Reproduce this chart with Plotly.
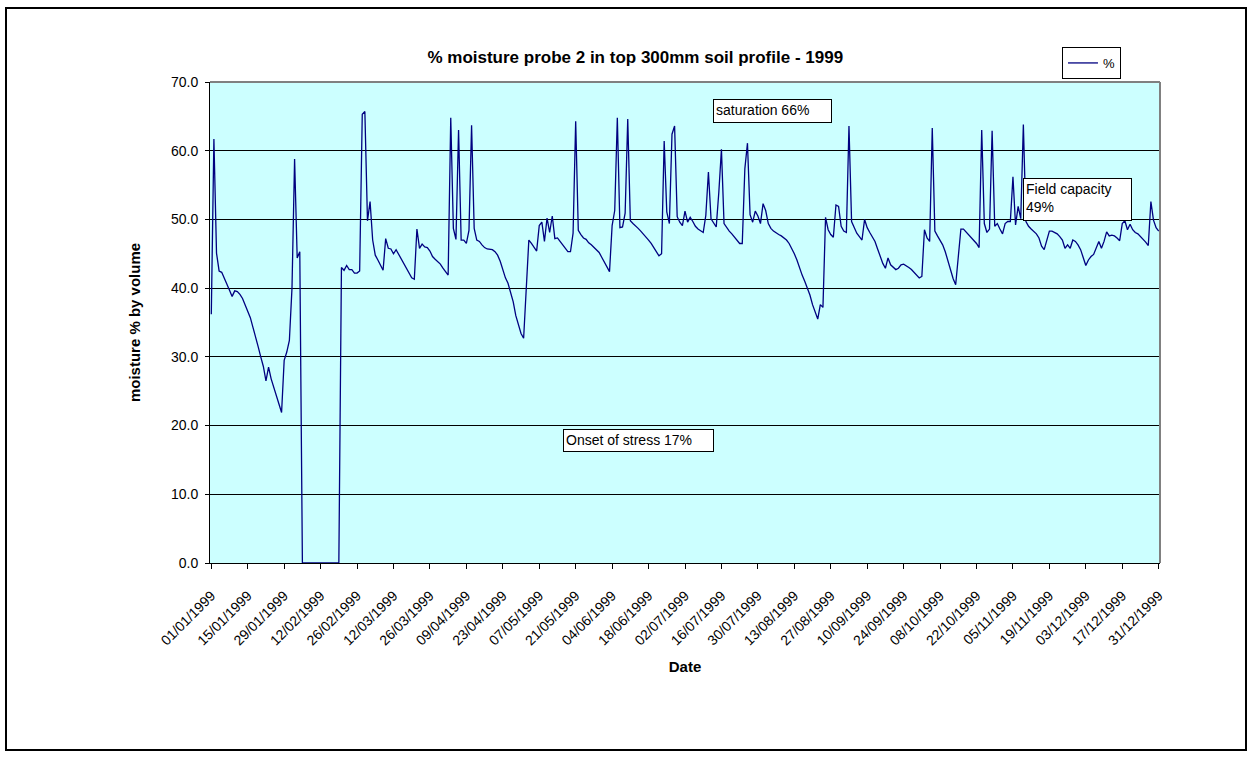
import pandas as pd
import plotly.graph_objects as go

# Daily soil moisture (% by volume), probe 2, top 300 mm, 01/01/1999 - 31/12/1999
moisture = [
    36.2, 61.7, 45.1, 42.5, 42.3, 41.5, 40.5, 39.7, 38.8, 39.6,
    39.5, 39.1, 38.5, 37.6, 36.5, 35.7, 34.3, 33.0, 31.5, 30.0,
    28.6, 26.5, 28.5, 26.8, 25.5, 24.2, 23.0, 21.9, 29.5, 30.7,
    32.4, 40.0, 58.8, 44.4, 45.3, 0.0, 0.0, 0.0, 0.0, 0.0,
    0.0, 0.0, 0.0, 0.0, 0.0, 0.0, 0.0, 0.0, 0.0, 0.0,
    43.0, 42.6, 43.3, 42.7, 42.7, 42.2, 42.2, 42.5, 65.3, 65.7,
    49.8, 52.6, 47.0, 44.8, 44.1, 43.3, 42.6, 47.2, 45.8, 45.7,
    45.0, 45.6, 44.9, 44.2, 43.4, 42.8, 42.1, 41.5, 41.3, 48.6,
    45.8, 46.4, 46.0, 45.9, 45.4, 44.6, 44.2, 43.8, 43.5, 42.9,
    42.4, 41.9, 64.8, 48.7, 47.1, 63.0, 47.0, 47.0, 46.5, 48.4,
    63.7, 48.7, 47.0, 46.8, 46.3, 45.9, 45.7, 45.7, 45.6, 45.3,
    44.8, 43.9, 42.6, 41.5, 40.7, 39.5, 38.0, 36.0, 34.5, 33.4,
    32.7, 39.7, 47.0, 46.5, 45.9, 45.4, 49.1, 49.6, 46.8, 50.2,
    48.1, 50.5, 47.2, 47.3, 46.8, 46.3, 45.8, 45.3, 45.3, 48.0,
    64.3, 48.4, 47.8, 47.3, 47.1, 46.6, 46.3, 45.9, 45.5, 45.2,
    44.5, 43.8, 43.1, 42.4, 49.1, 51.3, 64.8, 48.8, 48.9, 50.9,
    64.6, 49.8, 49.4, 49.1, 48.7, 48.3, 47.9, 47.5, 47.0, 46.5,
    45.9, 45.3, 44.7, 45.0, 61.4, 51.1, 49.4, 62.4, 63.6, 50.4,
    49.6, 49.1, 51.2, 49.6, 50.3, 49.7, 49.0, 48.6, 48.3, 48.1,
    50.6, 56.9, 50.1, 49.4, 48.9, 54.0, 60.2, 49.4, 48.8, 48.3,
    47.9, 47.4, 46.9, 46.5, 46.5, 57.4, 61.1, 50.7, 49.6, 51.2,
    50.5, 49.4, 52.3, 51.3, 49.4, 48.7, 48.3, 48.0, 47.8, 47.6,
    47.3, 47.0, 46.5, 45.8, 45.0, 44.1, 42.9, 41.9, 41.0, 40.1,
    39.0, 37.6, 36.5, 35.5, 37.6, 37.2, 50.3, 48.5, 47.8, 47.4,
    52.1, 51.9, 49.0, 48.3, 48.1, 63.6, 49.7, 48.7, 48.0, 47.5,
    47.0, 50.0, 48.8, 48.1, 47.5, 46.8, 45.7, 44.6, 43.6, 42.9,
    44.4, 43.4, 43.1, 42.7, 42.9, 43.4, 43.5, 43.3, 43.0, 42.7,
    42.3, 41.9, 41.5, 41.7, 48.5, 47.3, 46.8, 63.3, 48.3, 47.6,
    47.0, 46.3, 45.3, 43.9, 42.4, 41.4, 40.5, 44.6, 48.6, 48.6,
    48.2, 47.8, 47.4, 47.0, 46.5, 45.9, 63.0, 49.4, 48.1, 48.6,
    62.9, 49.0, 49.4, 48.6, 47.9, 49.4, 49.7, 49.7, 56.2, 49.2,
    51.9, 50.1, 63.8, 49.7, 49.0, 48.6, 48.2, 47.9, 47.3, 46.1,
    45.6, 46.8, 48.3, 48.3, 48.1, 47.9, 47.5, 47.0, 45.8, 46.3,
    45.8, 47.0, 46.8, 46.3, 45.6, 44.5, 43.3, 44.1, 44.6, 44.9,
    45.8, 46.8, 45.8, 46.8, 48.2, 47.6, 47.7, 47.6, 47.3, 46.9,
    49.4, 49.8, 48.5, 49.3, 48.5, 48.1, 47.9, 47.5, 47.2, 46.7,
    46.2, 52.6, 49.9, 48.8, 48.3,
]
dates = pd.date_range("1999-01-01", periods=len(moisture), freq="D")

# Fortnightly date ticks
tick_labels = [
    "01/01/1999", "15/01/1999", "29/01/1999", "12/02/1999", "26/02/1999",
    "12/03/1999", "26/03/1999", "09/04/1999", "23/04/1999", "07/05/1999",
    "21/05/1999", "04/06/1999", "18/06/1999", "02/07/1999", "16/07/1999",
    "30/07/1999", "13/08/1999", "27/08/1999", "10/09/1999", "24/09/1999",
    "08/10/1999", "22/10/1999", "05/11/1999", "19/11/1999", "03/12/1999",
    "17/12/1999", "31/12/1999",
]
tick_dates = pd.to_datetime(tick_labels, format="%d/%m/%Y")

y_ticks = [0, 10, 20, 30, 40, 50, 60, 70]

# Reference levels noted on the chart
notes = [
    ("saturation 66%", 0.5295, 0.9647, 113, 18),
    ("Onset of stress 17%", 0.3716, 0.2786, 145, 17),
    ("Field capacity<br>49%", 0.8558, 0.8004, 103, 37),
]

FONT = "Liberation Sans, Arial, sans-serif"

fig = go.Figure()
fig.add_trace(go.Scatter(
    x=dates, y=moisture, mode="lines", name="%",
    line=dict(color="#000080", width=1.3),
))

fig.update_layout(
    width=1253, height=758,
    margin=dict(l=210, r=93, t=82, b=195),
    paper_bgcolor="white",
    plot_bgcolor="#CCFFFF",
    font=dict(family=FONT, size=14, color="black"),
    title=dict(
        text="<b>% moisture probe 2 in top 300mm soil profile - 1999</b>",
        x=0.507, xref="container", xanchor="center",
        y=0.925, yref="container", yanchor="middle",
        font=dict(family=FONT, size=17, color="black"),
    ),
    showlegend=True,
    legend=dict(
        x=0.8968, y=1.0728, xanchor="left", yanchor="top",
        bgcolor="white", bordercolor="black", borderwidth=1,
        font=dict(family=FONT, size=13),
        itemwidth=30, tracegroupgap=0,
    ),
    xaxis=dict(
        type="date",
        range=["1998-12-31 12:00", "1999-12-31 12:00"],
        tickmode="array", tickvals=tick_dates, ticktext=tick_labels,
        tickangle=-45,
        ticks="outside", ticklen=5, tickcolor="black", tickwidth=1,
        ticklabelstandoff=13,
        showgrid=False, zeroline=False,
        showline=True, linecolor="black", linewidth=1,
        tickfont=dict(family=FONT, size=14),
        title=dict(text="<b>Date</b>", standoff=14,
                   font=dict(family=FONT, size=15)),
    ),
    yaxis=dict(
        range=[0, 70],
        tickmode="array", tickvals=y_ticks,
        tickformat=".1f",
        ticks="outside", ticklen=4, tickcolor="black", tickwidth=1,
        ticklabelstandoff=4,
        showgrid=True, gridcolor="black", gridwidth=1,
        zeroline=False,
        showline=True, linecolor="black", linewidth=1,
        tickfont=dict(family=FONT, size=14),
        title=dict(text="<b>moisture % by volume</b>", standoff=26,
                   font=dict(family=FONT, size=15)),
    ),
)

# Grey plot-area frame on the top and right edges
fig.add_shape(type="line", xref="paper", yref="paper", x0=0, x1=1, y0=1, y1=1,
              line=dict(color="#808080", width=2), layer="above")
fig.add_shape(type="line", xref="paper", yref="paper", x0=1, x1=1, y0=0, y1=1,
              line=dict(color="#808080", width=2), layer="above")

# Outer chart border
fig.add_shape(type="rect", xref="paper", yref="paper",
              x0=(6 - 210) / 950, x1=(1246 - 210) / 950,
              y0=(563 - 750) / 481, y1=(563 - 8) / 481,
              line=dict(color="black", width=2), fillcolor="rgba(0,0,0,0)",
              layer="above")

for text, nx, ny, w, h in notes:
    fig.add_annotation(
        text=text, xref="paper", yref="paper", x=nx, y=ny,
        xanchor="left", yanchor="top", align="left", valign="top",
        width=w, height=h, showarrow=False,
        bgcolor="white", bordercolor="black", borderwidth=1, borderpad=2,
        font=dict(family=FONT, size=14, color="black"),
    )

fig.write_html("out.html")
